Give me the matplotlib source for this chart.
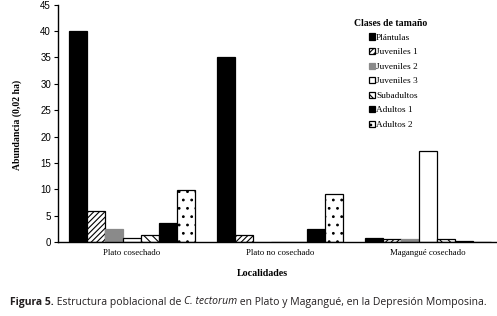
import matplotlib
matplotlib.use("Agg")
import matplotlib.pyplot as plt
import numpy as np

localidades = ["Plato cosechado", "Plato no cosechado", "Magangué cosechado"]
clases = ["Plántulas", "Juveniles 1", "Juveniles 2", "Juveniles 3", "Subadultos", "Adultos 1", "Adultos 2"]
plantulas = [40.1, 35.0, 0.75]
juveniles1 = [5.8, 1.3, 0.5]
juveniles2 = [2.4, 0.0, 0.5]
juveniles3 = [0.7, 0.0, 17.2]
subadultos = [1.3, 0.0, 0.5]
adultos1 = [3.6, 2.5, 0.2]
adultos2 = [9.8, 9.1, 0.0]
yticks = [0, 5, 10, 15, 20, 25, 30, 35, 40, 45]

series = [plantulas, juveniles1, juveniles2, juveniles3, subadultos, adultos1, adultos2]
styles = [
    dict(facecolor="black", hatch=None),
    dict(facecolor="white", hatch="//////"),
    dict(facecolor="#8a8a8a", hatch=None),
    dict(facecolor="white", hatch=None),
    dict(facecolor="white", hatch="\\\\\\\\"),
    dict(facecolor="black", hatch=None),
    dict(facecolor="white", hatch=".."),
]

plt.rcParams["hatch.linewidth"] = 0.8
W, H = 497, 316
fig = plt.figure(figsize=(W / 100, H / 100), dpi=100)
ax = fig.add_axes([58 / W, (H - 242) / H, 444 / W, 237.3 / H])

x = np.arange(len(localidades))
bw = 0.121
handles = []
for i, (vals, st) in enumerate(zip(series, styles)):
    offs = (i - 3) * bw
    b = ax.bar(x + offs, vals, bw, facecolor=st["facecolor"], hatch=st["hatch"],
               edgecolor="black" if st["facecolor"] != "#8a8a8a" else "#8a8a8a",
               linewidth=0.9, label=clases[i])
    handles.append(b)

ax.set_xlim(-0.5, 2.5)
ax.set_ylim(0, 45)
ax.set_yticks(yticks)
ax.set_yticklabels([str(t) for t in yticks], family="Liberation Sans", fontsize=7)
ax.set_xticks(x)
ax.set_xticklabels(localidades, family="Liberation Serif", fontsize=6.3)
ax.tick_params(axis="x", length=0, pad=5)
ax.tick_params(axis="y", length=3, width=0.8, pad=2)
for s in ["top", "right"]:
    ax.spines[s].set_visible(False)
for s in ["left", "bottom"]:
    ax.spines[s].set_linewidth(1.0)

fig.text(17 / W, 1 - 125 / H, "Abundancia (0,02 ha)", rotation=90, ha="center", va="center",
         family="Liberation Serif", fontweight="bold", fontsize=7)
fig.text(262 / W, 1 - 273 / H, "Localidades", ha="center", va="center",
         family="Liberation Serif", fontweight="bold", fontsize=7.2)

fig.text(391 / W, 1 - 23 / H, "Clases de tamaño", ha="center", va="center",
         family="Liberation Serif", fontweight="bold", fontsize=7)
leg = ax.legend(handles=handles, loc="upper left", bbox_to_anchor=(369 / W, 1 - 33.5 / H),
                bbox_transform=fig.transFigure, frameon=False,
                prop=dict(family="Liberation Serif", size=6.7),
                handlelength=0.65, handleheight=0.65, handletextpad=0.12,
                labelspacing=0.66, borderpad=0, borderaxespad=0)

# caption
renderer = fig.canvas.get_renderer()
parts = [("Figura 5.", dict(fontweight="bold", color="#231f20")),
         (" Estructura poblacional de ", dict(color="#231f20")),
         ("C. tectorum", dict(style="italic", color="#231f20")),
         (" en Plato y Magangué, en la Depresión Momposina.", dict(color="#231f20"))]
xpos = 10
for txt, kw in parts:
    t = fig.text(xpos / W, 1 - 302 / H, txt, ha="left", va="center",
                 family="Open Sans", fontsize=7.5, **kw)
    bb = t.get_window_extent(renderer)
    xpos += bb.width

fig.savefig("out.png", dpi=100)
